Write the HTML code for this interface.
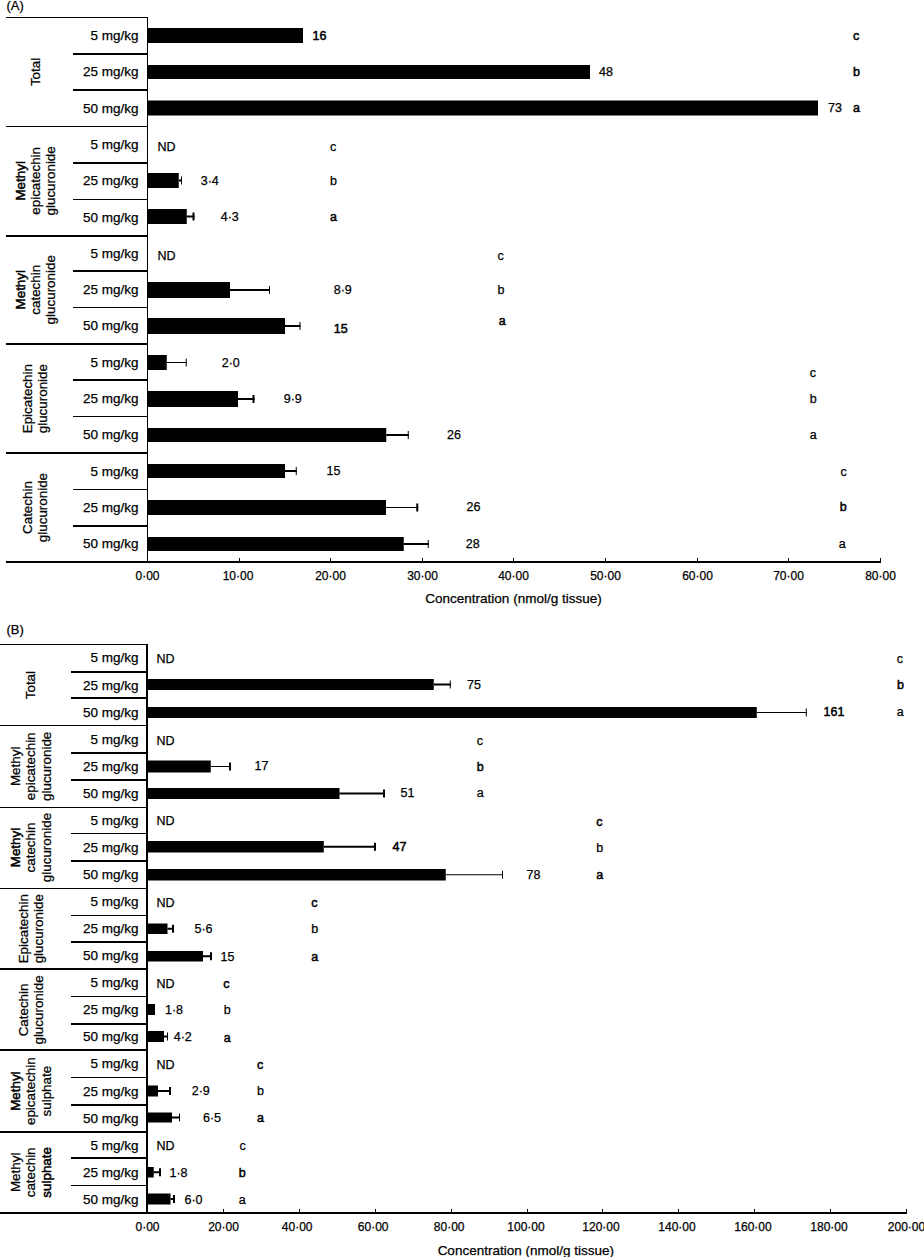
<!DOCTYPE html>
<html><head><meta charset="utf-8"><title>Concentration chart</title><style>
html,body{margin:0;padding:0;background:#fff;}
body{width:924px;height:1257px;overflow:hidden;}
svg{display:block;}
svg text{font-family:"Liberation Sans", sans-serif;fill:#000;stroke:#000;stroke-width:0.25px;}
svg text.sb{stroke-width:0.5px;}
svg rect{fill:#000;}
</style></head><body>
<svg width="924" height="1257" viewBox="0 0 924 1257">
<text x="6.5" y="10" font-size="13">(A)</text>
<rect x="6" y="17" width="141" height="1"/>
<rect x="73" y="53" width="74" height="2"/>
<rect x="73" y="89" width="74" height="2"/>
<rect x="6" y="126" width="141" height="1"/>
<rect x="73" y="162" width="74" height="2"/>
<rect x="73" y="199" width="74" height="1"/>
<rect x="6" y="235" width="141" height="2"/>
<rect x="73" y="270" width="74" height="2"/>
<rect x="73" y="307" width="74" height="1"/>
<rect x="6" y="343" width="141" height="2"/>
<rect x="73" y="379" width="74" height="2"/>
<rect x="73" y="416" width="74" height="1"/>
<rect x="6" y="452" width="141" height="2"/>
<rect x="73" y="489" width="74" height="1"/>
<rect x="73" y="525" width="74" height="2"/>
<rect x="6" y="561" width="875" height="2"/>
<rect x="147" y="17" width="1" height="546"/>
<rect x="239" y="558" width="1" height="3"/>
<rect x="330" y="558" width="1" height="3"/>
<rect x="422" y="558" width="1" height="3"/>
<rect x="513" y="558" width="1" height="3"/>
<rect x="605" y="558" width="1" height="3"/>
<rect x="697" y="558" width="1" height="3"/>
<rect x="788" y="558" width="1" height="3"/>
<rect x="880" y="558" width="1" height="3"/>
<text x="147.5" y="580" font-size="12" text-anchor="middle">0·00</text>
<text x="238.0" y="580" font-size="12" text-anchor="middle">10·00</text>
<text x="330.5" y="580" font-size="12" text-anchor="middle">20·00</text>
<text x="422.5" y="580" font-size="12" text-anchor="middle">30·00</text>
<text x="513.5" y="580" font-size="12" text-anchor="middle">40·00</text>
<text x="605.5" y="580" font-size="12" text-anchor="middle">50·00</text>
<text x="697.5" y="580" font-size="12" text-anchor="middle">60·00</text>
<text x="788.5" y="580" font-size="12" text-anchor="middle">70·00</text>
<text x="880.5" y="580" font-size="12" text-anchor="middle">80·00</text>
<text x="513.5" y="603" font-size="13.5" text-anchor="middle">Concentration (nmol/g tissue)</text>
<text transform="translate(39.8 71.95) rotate(-90)" font-size="13.4" text-anchor="middle">Total</text>
<text x="138.6" y="40.05" font-size="13.5" text-anchor="end">5 mg/kg</text>
<rect x="147" y="28" width="156" height="15"/>
<text x="312.5" y="40" font-size="12.5" class="sb">16</text>
<text x="853" y="40" font-size="12.5" class="sb">c</text>
<text x="138.6" y="76.35" font-size="13.5" text-anchor="end">25 mg/kg</text>
<rect x="147" y="65" width="443" height="14"/>
<text x="599" y="76" font-size="12.5">48</text>
<text x="853" y="76" font-size="12.5" class="sb">b</text>
<text x="138.6" y="112.65" font-size="13.5" text-anchor="end">50 mg/kg</text>
<rect x="147" y="100.5" width="671" height="15.0"/>
<text x="828" y="112" font-size="12.5">73</text>
<text x="853" y="112" font-size="12.5" class="sb">a</text>
<text transform="translate(24.5 180.85) rotate(-90)" font-size="13.4" text-anchor="middle" class="sb">Methyl</text>
<text transform="translate(39.8 180.85) rotate(-90)" font-size="13.4" text-anchor="middle">epicatechin</text>
<text transform="translate(55.1 180.85) rotate(-90)" font-size="13.4" text-anchor="middle">glucuronide</text>
<text x="138.6" y="148.95" font-size="13.5" text-anchor="end">5 mg/kg</text>
<text x="157.5" y="151" font-size="12.5">ND</text>
<text x="330" y="151" font-size="12.5">c</text>
<text x="138.6" y="185.25" font-size="13.5" text-anchor="end">25 mg/kg</text>
<rect x="147" y="173" width="31.75" height="15"/>
<rect x="178.75" y="179.5" width="3.25" height="2"/>
<rect x="181" y="176.5" width="1" height="8"/>
<text x="200.75" y="185" font-size="12.5">3·4</text>
<text x="330" y="185" font-size="12.5">b</text>
<text x="138.6" y="221.55" font-size="13.5" text-anchor="end">50 mg/kg</text>
<rect x="147" y="209" width="39.75" height="15"/>
<rect x="186.75" y="215.5" width="7.75" height="2"/>
<rect x="192.5" y="212.5" width="2" height="8"/>
<text x="220.75" y="221" font-size="12.5">4·3</text>
<text x="330" y="221" font-size="12.5" class="sb">a</text>
<text transform="translate(24.5 289.75) rotate(-90)" font-size="13.4" text-anchor="middle" class="sb">Methyl</text>
<text transform="translate(39.8 289.75) rotate(-90)" font-size="13.4" text-anchor="middle">catechin</text>
<text transform="translate(55.1 289.75) rotate(-90)" font-size="13.4" text-anchor="middle">glucuronide</text>
<text x="138.6" y="257.85" font-size="13.5" text-anchor="end">5 mg/kg</text>
<text x="157.5" y="260" font-size="12.5">ND</text>
<text x="497.5" y="260" font-size="12.5">c</text>
<text x="138.6" y="294.15" font-size="13.5" text-anchor="end">25 mg/kg</text>
<rect x="147" y="282" width="83" height="16"/>
<rect x="230" y="289.0" width="40" height="2"/>
<rect x="269" y="286.0" width="1" height="8"/>
<text x="333.75" y="294" font-size="12.5">8·9</text>
<text x="497.5" y="294" font-size="12.5">b</text>
<text x="138.6" y="330.45" font-size="13.5" text-anchor="end">50 mg/kg</text>
<rect x="147" y="318" width="138" height="16"/>
<rect x="285" y="325.0" width="15.5" height="2"/>
<rect x="299.5" y="322.0" width="1" height="8"/>
<text x="333.75" y="333" font-size="12.5" class="sb">15</text>
<text x="498.75" y="325" font-size="12.5" class="sb">a</text>
<text transform="translate(32.15 398.65) rotate(-90)" font-size="13.4" text-anchor="middle">Epicatechin</text>
<text transform="translate(47.45 398.65) rotate(-90)" font-size="13.4" text-anchor="middle">glucuronide</text>
<text x="138.6" y="366.75" font-size="13.5" text-anchor="end">5 mg/kg</text>
<rect x="147" y="355" width="19.75" height="15"/>
<rect x="166.75" y="362.0" width="20.0" height="1"/>
<rect x="185.75" y="358.5" width="1" height="8"/>
<text x="221.75" y="367" font-size="12.5">2·0</text>
<text x="809.75" y="376.5" font-size="12.5">c</text>
<text x="138.6" y="403.05" font-size="13.5" text-anchor="end">25 mg/kg</text>
<rect x="147" y="391" width="91" height="16"/>
<rect x="238" y="398.0" width="16.5" height="2"/>
<rect x="252.5" y="395.0" width="2" height="8"/>
<text x="283.75" y="403" font-size="12.5">9·9</text>
<text x="809.75" y="403" font-size="12.5">b</text>
<text x="138.6" y="439.35" font-size="13.5" text-anchor="end">50 mg/kg</text>
<rect x="147" y="428" width="239.25" height="14"/>
<rect x="386.25" y="434.0" width="22.5" height="2"/>
<rect x="407.75" y="431.0" width="1" height="8"/>
<text x="447" y="439" font-size="12.5">26</text>
<text x="809.75" y="439" font-size="12.5">a</text>
<text transform="translate(32.15 507.55) rotate(-90)" font-size="13.4" text-anchor="middle">Catechin</text>
<text transform="translate(47.45 507.55) rotate(-90)" font-size="13.4" text-anchor="middle">glucuronide</text>
<text x="138.6" y="475.65" font-size="13.5" text-anchor="end">5 mg/kg</text>
<rect x="147" y="464" width="138" height="14"/>
<rect x="285" y="470.0" width="11.75" height="2"/>
<rect x="295.75" y="467.0" width="1" height="8"/>
<text x="326.5" y="475" font-size="12.5">15</text>
<text x="840.5" y="475.5" font-size="12.5">c</text>
<text x="138.6" y="511.95" font-size="13.5" text-anchor="end">25 mg/kg</text>
<rect x="147" y="500" width="239" height="15"/>
<rect x="386" y="507.0" width="32.25" height="1"/>
<rect x="416.25" y="503.5" width="2" height="8"/>
<text x="466.5" y="511" font-size="12.5">26</text>
<text x="839.75" y="511" font-size="12.5" class="sb">b</text>
<text x="138.6" y="548.25" font-size="13.5" text-anchor="end">50 mg/kg</text>
<rect x="147" y="537" width="256.75" height="14"/>
<rect x="403.75" y="543.0" width="25.0" height="2"/>
<rect x="427.75" y="540.0" width="1" height="8"/>
<text x="465.75" y="548" font-size="12.5">28</text>
<text x="838.75" y="548.25" font-size="12.5">a</text>
<text x="6.5" y="634" font-size="13">(B)</text>
<rect x="0" y="644" width="146" height="1"/>
<rect x="71" y="671" width="75" height="2"/>
<rect x="71" y="697" width="75" height="2"/>
<rect x="0" y="725" width="146" height="1"/>
<rect x="71" y="752" width="75" height="2"/>
<rect x="71" y="779" width="75" height="2"/>
<rect x="0" y="807" width="146" height="1"/>
<rect x="71" y="833" width="75" height="1"/>
<rect x="71" y="860" width="75" height="2"/>
<rect x="0" y="888" width="146" height="1"/>
<rect x="71" y="915" width="75" height="1"/>
<rect x="71" y="941" width="75" height="2"/>
<rect x="0" y="968" width="146" height="2"/>
<rect x="71" y="996" width="75" height="1"/>
<rect x="71" y="1023" width="75" height="2"/>
<rect x="0" y="1049" width="146" height="2"/>
<rect x="71" y="1077" width="75" height="1"/>
<rect x="71" y="1104" width="75" height="2"/>
<rect x="0" y="1131" width="146" height="2"/>
<rect x="71" y="1157" width="75" height="2"/>
<rect x="71" y="1185" width="75" height="1"/>
<rect x="0" y="1212" width="907" height="2"/>
<rect x="146" y="644" width="2" height="570"/>
<rect x="223" y="1209" width="1" height="3"/>
<rect x="299" y="1209" width="1" height="3"/>
<rect x="375" y="1209" width="1" height="3"/>
<rect x="451" y="1209" width="1" height="3"/>
<rect x="527" y="1209" width="1" height="3"/>
<rect x="602" y="1209" width="1" height="3"/>
<rect x="678" y="1209" width="1" height="3"/>
<rect x="754" y="1209" width="1" height="3"/>
<rect x="830" y="1209" width="1" height="3"/>
<rect x="906" y="1209" width="1" height="3"/>
<text x="147.5" y="1230.5" font-size="12" text-anchor="middle">0·00</text>
<text x="223.5" y="1230.5" font-size="12" text-anchor="middle">20·00</text>
<text x="297.2" y="1230.5" font-size="12" text-anchor="middle">40·00</text>
<text x="373.2" y="1230.5" font-size="12" text-anchor="middle">60·00</text>
<text x="449.2" y="1230.5" font-size="12" text-anchor="middle">80·00</text>
<text x="526.0" y="1230.5" font-size="12" text-anchor="middle">100·00</text>
<text x="601.0" y="1230.5" font-size="12" text-anchor="middle">120·00</text>
<text x="677.0" y="1230.5" font-size="12" text-anchor="middle">140·00</text>
<text x="753.0" y="1230.5" font-size="12" text-anchor="middle">160·00</text>
<text x="829.0" y="1230.5" font-size="12" text-anchor="middle">180·00</text>
<text x="906.5" y="1230.5" font-size="12" text-anchor="middle">200·00</text>
<text x="525.8" y="1255" font-size="13.5" text-anchor="middle">Concentration (nmol/g tissue)</text>
<text transform="translate(35.2 685.11) rotate(-90)" font-size="13.4" text-anchor="middle">Total</text>
<text x="138.6" y="662.43" font-size="13.5" text-anchor="end">5 mg/kg</text>
<text x="156.5" y="663" font-size="12.5">ND</text>
<text x="896.75" y="663" font-size="12.5">c</text>
<text x="138.6" y="689.5" font-size="13.5" text-anchor="end">25 mg/kg</text>
<rect x="147" y="679" width="286.75" height="11"/>
<rect x="433.75" y="683.5" width="17.0" height="2"/>
<rect x="449.75" y="680.5" width="1" height="8"/>
<text x="467" y="689.25" font-size="12.5">75</text>
<text x="897" y="689.25" font-size="12.5" class="sb">b</text>
<text x="138.6" y="716.57" font-size="13.5" text-anchor="end">50 mg/kg</text>
<rect x="147" y="707" width="609.75" height="11"/>
<rect x="756.75" y="712.0" width="50.0" height="1"/>
<rect x="805.75" y="708.5" width="1" height="8"/>
<text x="823.5" y="716.25" font-size="12.5" class="sb">161</text>
<text x="896.75" y="716.25" font-size="12.5">a</text>
<text transform="translate(19.9 766.32) rotate(-90)" font-size="13.4" text-anchor="middle">Methyl</text>
<text transform="translate(35.2 766.32) rotate(-90)" font-size="13.4" text-anchor="middle">epicatechin</text>
<text transform="translate(50.5 766.32) rotate(-90)" font-size="13.4" text-anchor="middle">glucuronide</text>
<text x="138.6" y="743.64" font-size="13.5" text-anchor="end">5 mg/kg</text>
<text x="156.5" y="744.5" font-size="12.5">ND</text>
<text x="476.75" y="744.5" font-size="12.5">c</text>
<text x="138.6" y="770.72" font-size="13.5" text-anchor="end">25 mg/kg</text>
<rect x="147" y="760.5" width="63.75" height="12.0"/>
<rect x="210.75" y="766.0" width="20.25" height="1"/>
<rect x="229" y="762.5" width="2" height="8"/>
<text x="254.5" y="770.25" font-size="12.5">17</text>
<text x="476.75" y="770.75" font-size="12.5" class="sb">b</text>
<text x="138.6" y="797.78" font-size="13.5" text-anchor="end">50 mg/kg</text>
<rect x="147" y="788" width="192.5" height="11"/>
<rect x="339.5" y="792.5" width="45.5" height="2"/>
<rect x="383" y="789.5" width="2" height="8"/>
<text x="400.5" y="797" font-size="12.5">51</text>
<text x="476.75" y="797" font-size="12.5">a</text>
<text transform="translate(19.9 847.52) rotate(-90)" font-size="13.4" text-anchor="middle" class="sb">Methyl</text>
<text transform="translate(35.2 847.52) rotate(-90)" font-size="13.4" text-anchor="middle">catechin</text>
<text transform="translate(50.5 847.52) rotate(-90)" font-size="13.4" text-anchor="middle">glucuronide</text>
<text x="138.6" y="824.86" font-size="13.5" text-anchor="end">5 mg/kg</text>
<text x="156.5" y="825" font-size="12.5">ND</text>
<text x="596.25" y="825.5" font-size="12.5" class="sb">c</text>
<text x="138.6" y="851.92" font-size="13.5" text-anchor="end">25 mg/kg</text>
<rect x="147" y="841" width="176.75" height="11.5"/>
<rect x="323.75" y="845.75" width="52.25" height="2"/>
<rect x="374" y="842.75" width="2" height="8"/>
<text x="392.5" y="851" font-size="12.5" class="sb">47</text>
<text x="596.25" y="851.75" font-size="12.5">b</text>
<text x="138.6" y="879.0" font-size="13.5" text-anchor="end">50 mg/kg</text>
<rect x="147" y="869" width="298.75" height="11.5"/>
<rect x="445.75" y="874.25" width="57.25" height="1"/>
<rect x="502" y="870.75" width="1" height="8"/>
<text x="526.5" y="878.75" font-size="12.5">78</text>
<text x="596.25" y="879.25" font-size="12.5" class="sb">a</text>
<text transform="translate(27.55 928.74) rotate(-90)" font-size="13.4" text-anchor="middle">Epicatechin</text>
<text transform="translate(42.85 928.74) rotate(-90)" font-size="13.4" text-anchor="middle">glucuronide</text>
<text x="138.6" y="906.06" font-size="13.5" text-anchor="end">5 mg/kg</text>
<text x="156.5" y="906.5" font-size="12.5">ND</text>
<text x="311.25" y="906.5" font-size="12.5" class="sb">c</text>
<text x="138.6" y="933.13" font-size="13.5" text-anchor="end">25 mg/kg</text>
<rect x="147" y="923.5" width="20.5" height="10.5"/>
<rect x="167.5" y="927.75" width="6.5" height="2"/>
<rect x="172" y="924.75" width="2" height="8"/>
<text x="194.5" y="933.25" font-size="12.5">5·6</text>
<text x="311.25" y="933.25" font-size="12.5">b</text>
<text x="138.6" y="960.21" font-size="13.5" text-anchor="end">50 mg/kg</text>
<rect x="147" y="951" width="56" height="10.5"/>
<rect x="203" y="955.25" width="9" height="2"/>
<rect x="210" y="952.25" width="2" height="8"/>
<text x="220.5" y="960.5" font-size="12.5">15</text>
<text x="311.25" y="960.5" font-size="12.5" class="sb">a</text>
<text transform="translate(27.55 1009.94) rotate(-90)" font-size="13.4" text-anchor="middle">Catechin</text>
<text transform="translate(42.85 1009.94) rotate(-90)" font-size="13.4" text-anchor="middle">glucuronide</text>
<text x="138.6" y="987.27" font-size="13.5" text-anchor="end">5 mg/kg</text>
<text x="156.5" y="987.5" font-size="12.5">ND</text>
<text x="223.25" y="987.5" font-size="12.5" class="sb">c</text>
<text x="138.6" y="1014.34" font-size="13.5" text-anchor="end">25 mg/kg</text>
<rect x="147" y="1004" width="8" height="11"/>
<text x="165" y="1014" font-size="12.5">1·8</text>
<text x="223.75" y="1014" font-size="12.5">b</text>
<text x="138.6" y="1041.41" font-size="13.5" text-anchor="end">50 mg/kg</text>
<rect x="147" y="1031" width="17" height="11"/>
<rect x="164" y="1035.5" width="4" height="2"/>
<rect x="167" y="1032.5" width="1" height="8"/>
<text x="173.75" y="1041.1" font-size="12.5">4·2</text>
<text x="223.75" y="1041.5" font-size="12.5" class="sb">a</text>
<text transform="translate(19.9 1091.15) rotate(-90)" font-size="13.4" text-anchor="middle" class="sb">Methyl</text>
<text transform="translate(35.2 1091.15) rotate(-90)" font-size="13.4" text-anchor="middle">epicatechin</text>
<text transform="translate(50.5 1091.15) rotate(-90)" font-size="13.4" text-anchor="middle">sulphate</text>
<text x="138.6" y="1068.49" font-size="13.5" text-anchor="end">5 mg/kg</text>
<text x="156.5" y="1068.5" font-size="12.5">ND</text>
<text x="257" y="1068.5" font-size="12.5" class="sb">c</text>
<text x="138.6" y="1095.56" font-size="13.5" text-anchor="end">25 mg/kg</text>
<rect x="147" y="1085.5" width="11" height="11.0"/>
<rect x="158" y="1090.0" width="13" height="2"/>
<rect x="169" y="1087.0" width="2" height="8"/>
<text x="191.75" y="1095.25" font-size="12.5">2·9</text>
<text x="257" y="1095.25" font-size="12.5">b</text>
<text x="138.6" y="1122.62" font-size="13.5" text-anchor="end">50 mg/kg</text>
<rect x="147" y="1112.5" width="25" height="10.0"/>
<rect x="172" y="1116.5" width="8" height="2"/>
<rect x="179" y="1113.5" width="1" height="8"/>
<text x="203" y="1122" font-size="12.5">6·5</text>
<text x="257" y="1122" font-size="12.5" class="sb">a</text>
<text transform="translate(19.9 1172.37) rotate(-90)" font-size="13.4" text-anchor="middle">Methyl</text>
<text transform="translate(35.2 1172.37) rotate(-90)" font-size="13.4" text-anchor="middle">catechin</text>
<text transform="translate(50.5 1172.37) rotate(-90)" font-size="13.4" text-anchor="middle" class="sb">sulphate</text>
<text x="138.6" y="1149.7" font-size="13.5" text-anchor="end">5 mg/kg</text>
<text x="156.5" y="1149.5" font-size="12.5">ND</text>
<text x="239.5" y="1149.5" font-size="12.5">c</text>
<text x="138.6" y="1176.77" font-size="13.5" text-anchor="end">25 mg/kg</text>
<rect x="147" y="1167" width="6.75" height="10.5"/>
<rect x="153.75" y="1171.25" width="7.25" height="2"/>
<rect x="159" y="1168.25" width="2" height="8"/>
<text x="169.5" y="1176.75" font-size="12.5">1·8</text>
<text x="238.75" y="1176.75" font-size="12.5" class="sb">b</text>
<text x="138.6" y="1203.84" font-size="13.5" text-anchor="end">50 mg/kg</text>
<rect x="147" y="1193.5" width="23.5" height="11.0"/>
<rect x="170.5" y="1198.0" width="4.5" height="2"/>
<rect x="173" y="1195.0" width="2" height="8"/>
<text x="184.5" y="1203.5" font-size="12.5">6·0</text>
<text x="238.75" y="1203.5" font-size="12.5">a</text>
</svg>
</body></html>
